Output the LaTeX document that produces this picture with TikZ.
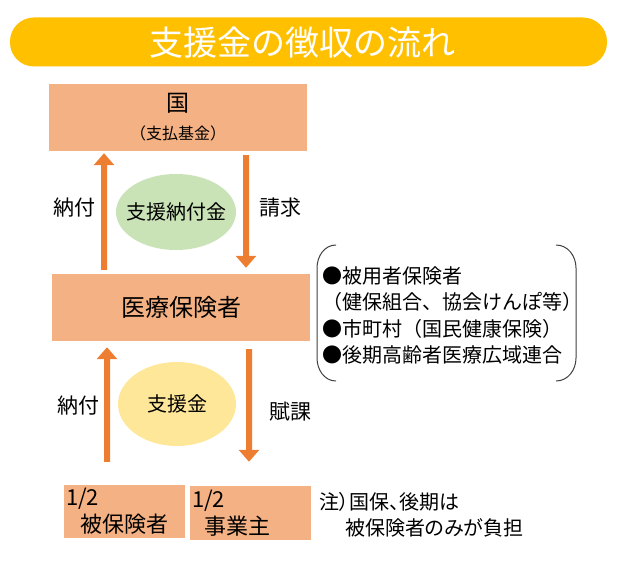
\documentclass[tikz,border=0pt]{standalone}
\usepackage{fontspec}
\setmainfont{Noto Sans CJK JP}
\newfontfamily\propfont[RawFeature=+palt]{Noto Sans CJK JP}
\usepackage{tikz}
\usetikzlibrary{arrows.meta}
\usetikzlibrary{shapes.geometric}
\usepackage{xcolor}
\definecolor{bannergold}{HTML}{FFC000}
\definecolor{boxsalmon}{HTML}{F4B183}
\definecolor{flowor}{HTML}{ED7D31}
\definecolor{poolgreen}{HTML}{C9E3B7}
\definecolor{poolyellow}{HTML}{FFE79A}
\definecolor{bracegray}{HTML}{404040}
\tikzset{
  orgbox/.style={fill=boxsalmon, inner sep=2bp},
  pool/.style={ellipse, minimum width=120bp, minimum height=76bp,
    inner xsep=-16bp, inner ysep=0pt,
    font=\fontsize{20bp}{24bp}\selectfont},
  flow/.style={draw=flowor, line width=6bp,
    -{Triangle[width=20bp,length=12bp]}},
  flowtext/.style={font=\fontsize{21bp}{25bp}\selectfont},
  bracepath/.style={draw=bracegray, line width=1bp}
}

\begin{document}
\begin{tikzpicture}[x=1bp,y=-1bp]
        \useasboundingbox (0,0) rectangle (625,563);
        % title banner
        \node[fill=bannergold, rounded corners=24bp, minimum width=597bp, minimum height=49bp] (banner) at (308.5,42) {};
        \node[text=white, font=\fontsize{34bp}{40bp}\selectfont] (title) at (302,43) {支援金の徴収の流れ};
        % boxes
        \node[orgbox, minimum width=258bp, minimum height=67bp, align=center,
          font=\fontsize{16bp}{28bp}\selectfont] (kuni) at (178,117.5)
          {{\fontsize{23bp}{26bp}\selectfont 国}\\（支払基金）};
        \node[orgbox, minimum width=258bp, minimum height=67bp,
          font=\fontsize{24bp}{28bp}\selectfont] (hoken) at (181,307.5) {医療保険者};
        \node[orgbox, minimum width=121bp, minimum height=53bp, text width=117bp, align=left,
          font=\fontsize{22bp}{27bp}\selectfont] (hihoken) at (124.5,511.5)
          {1/2\\\hspace*{14bp}被保険者};
        \node[orgbox, minimum width=121bp, minimum height=54bp, text width=117bp, align=left,
          font=\fontsize{22bp}{27bp}\selectfont] (jigyo) at (250.5,513)
          {1/2\\\hspace*{12bp}事業主};
        % pools
        \node[pool, fill=poolgreen] (nofukin) at (176,212) {支援納付金};
        \node[pool, fill=poolyellow, minimum width=118bp, minimum height=84bp] (shienkin) at (177,404) {支援金};
        % arrows
        \draw[flow, shorten <=4bp, shorten >=2bp] ([xshift=-77bp]hoken.north) -- ([xshift=-74bp]kuni.south);
        \draw[flow, shorten <=4bp, shorten >=6bp] ([xshift=68bp]kuni.south) -- ([xshift=65bp]hoken.north);
        \draw[flow, shorten <=23bp, shorten >=6bp] ([xshift=-17.5bp]hihoken.north) -- ([xshift=-74bp]hoken.south);
        \draw[flow, shorten <=8bp, shorten >=24bp] ([xshift=68bp]hoken.south) -- ([xshift=-1.5bp]jigyo.north);
        \node[flowtext] (nofu1) at (74,208) {納付};
        \node[flowtext] (seikyu) at (280,208) {請求};
        \node[flowtext] (nofu2) at (78,406) {納付};
        \node[flowtext] (fuka) at (290,412) {賦課};
        % members list
        \node[anchor=north west, align=left, inner sep=0pt,
          font=\fontsize{20bp}{26.5bp}\selectfont] (members) at (322,266)
          {●被用者保険者\\（健保組合、協会けんぽ等）\\●市町村（国民健康保険）\\●後期高齢者医療広域連合};
        \draw[bracepath] (336,245) to[out=180,in=90] (317,268) -- (317,358) to[out=-90,in=180] (336,381);
        \draw[bracepath] (556,245) to[out=0,in=90] (576,268) -- (576,358) to[out=-90,in=0] (556,381);
        % note
        \node[anchor=west, align=left, inner sep=0pt,
          font=\fontsize{20bp}{26bp}\propfont] (note) at (319,515)
          {注）国保、後期は\\\hspace*{26bp}被保険者のみが負担};
\end{tikzpicture}
\end{document}
